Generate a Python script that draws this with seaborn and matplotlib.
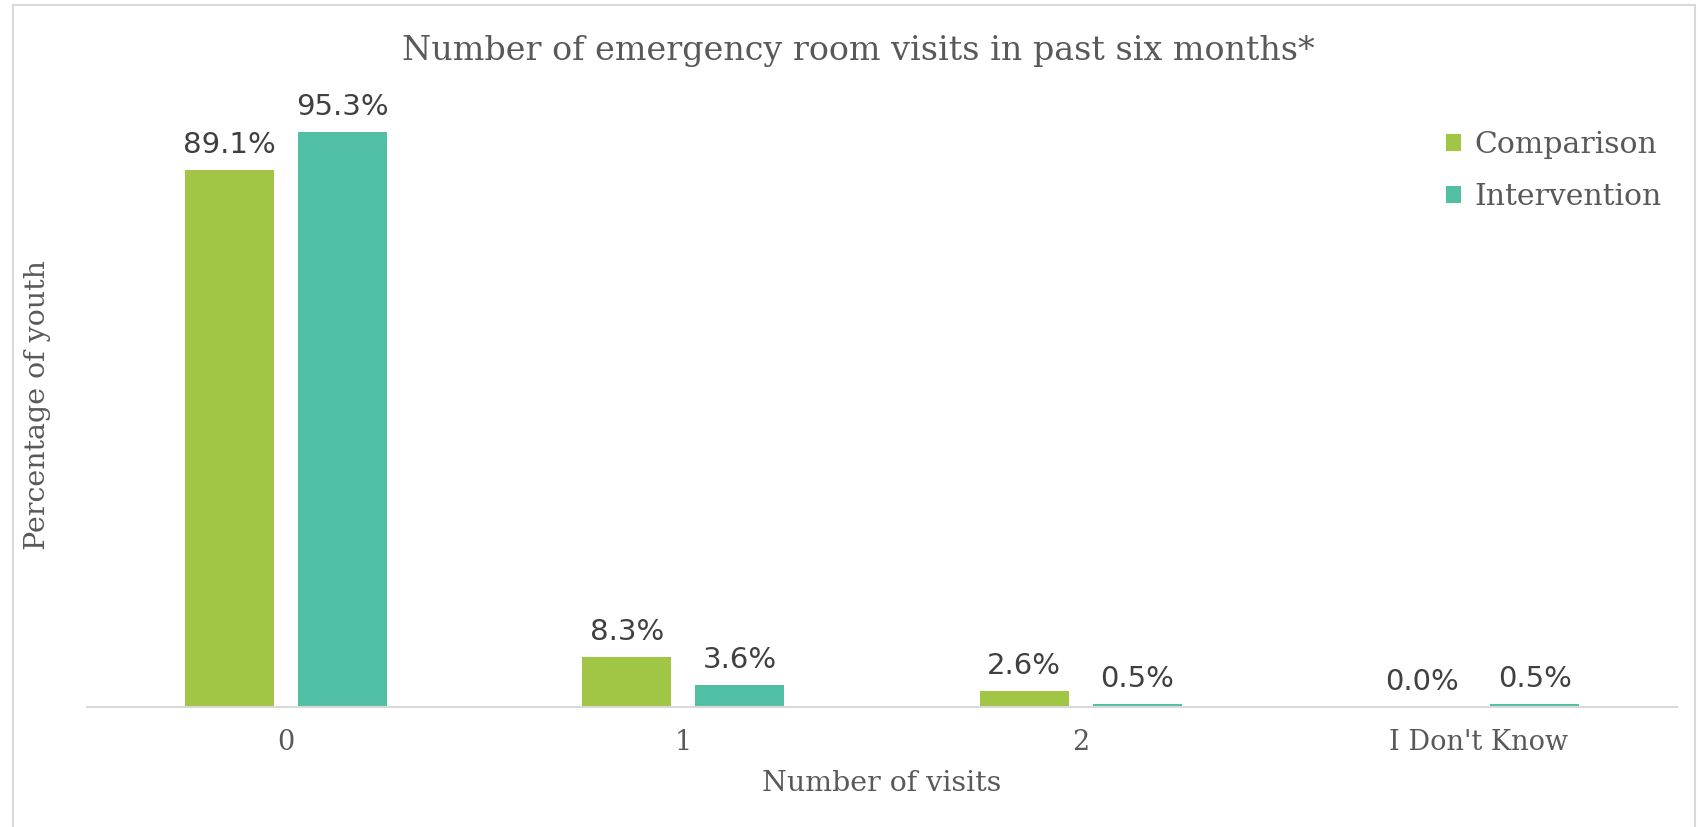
import matplotlib
matplotlib.use("Agg")
import matplotlib.pyplot as plt
import seaborn as sns
import pandas as pd
from matplotlib.patches import Rectangle

# Survey results: share of youth by number of ER visits
categories = ["0", "1", "2", "I Don't Know"]
groups = ["Comparison", "Intervention"]
comparison = [89.1, 8.3, 2.6, 0.0]
intervention = [95.3, 3.6, 0.5, 0.5]

df = pd.DataFrame({
    "visits": categories * 2,
    "group": [groups[0]] * 4 + [groups[1]] * 4,
    "pct": comparison + intervention,
})

sns.set_theme(style="white")
serif = ["DejaVu Serif"]
sans = ["DejaVu Sans"]
text_color = "#595959"
label_color = "#404040"
palette = {"Comparison": "#A1C545", "Intervention": "#50BFA3"}

fig = plt.figure(figsize=(16.98, 8.27), dpi=100)
ax = fig.add_axes([0.0512, 0.1451, 0.9364, 0.7291])

sns.barplot(data=df, x="visits", y="pct", hue="group", order=categories,
            hue_order=groups, palette=palette, width=0.568, gap=0.211,
            saturation=1, ax=ax, edgecolor="none")

ax.set_ylim(0, 100)
ax.set_xlim(-0.5, 3.5)
ax.set_yticks([])
for side in ["top", "right", "left"]:
    ax.spines[side].set_visible(False)
ax.spines["bottom"].set_color("#D9D9D9")
ax.spines["bottom"].set_linewidth(1.5)
ax.tick_params(axis="x", length=0, pad=16, labelsize=19.5, labelcolor=text_color)
for t in ax.get_xticklabels():
    t.set_fontfamily(serif)

for container in ax.containers:
    ax.bar_label(container, fmt="%.1f%%", padding=8, fontsize=21,
                 color=label_color, family=sans)

ax.set_xlabel("Number of visits", fontsize=20.5, color=text_color,
              family=serif, labelpad=10)
ax.set_ylabel("Percentage of youth", fontsize=20.5, color=text_color,
              family=serif, labelpad=26)
ax.set_title("Number of emergency room visits in past six months*",
             fontsize=24, color=text_color, family=serif, pad=32, x=0.485)

leg = ax.legend(loc="upper right", bbox_to_anchor=(1.0075, 1.0), frameon=False,
                prop={"family": serif, "size": 21.5}, labelcolor=text_color,
                handlelength=0.5, handleheight=0.5, handletextpad=0.45,
                labelspacing=0.8)

# light frame around the whole chart
fig.patches.append(Rectangle((13 / 1698, -0.01), (1695 - 13) / 1698, 1 - 5 / 827 + 0.01,
                             transform=fig.transFigure, fill=False,
                             edgecolor="#D9D9D9", linewidth=1.5))

fig.savefig("out.png", dpi=100, facecolor="white")
